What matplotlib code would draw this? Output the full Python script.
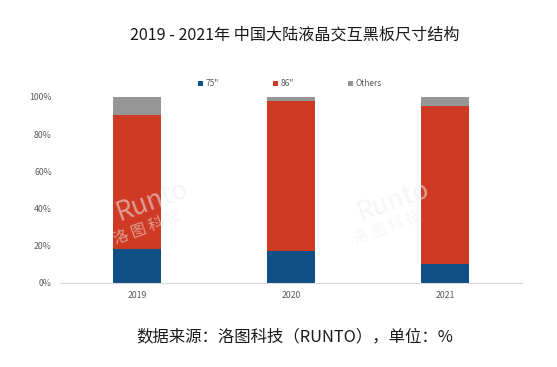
import numpy as np
import matplotlib.pyplot as plt

plt.rcParams['font.family'] = ['Noto Sans CJK SC', 'DejaVu Sans']

years = ['2019', '2020', '2021']
size_75 = [18, 17, 10]
size_86 = [72, 81, 85]
others = [10, 2, 5]
series = [('75"', size_75, '#0F4F85'), ('86"', size_86, '#CF3A25'), ('Others', others, '#969696')]

fig = plt.figure(figsize=(5.57, 3.67), dpi=100)
ax = fig.add_axes([0.108, 0.229, 0.829, 0.507])

x = np.arange(len(years))
bottom = np.zeros(len(years))
for name, vals, col in series:
    v = np.array(vals) / 100.0
    ax.bar(x, v, width=0.31, bottom=bottom, color=col, label=name)
    bottom += v

ax.set_xlim(-0.5, 2.5)
ax.set_ylim(0, 1.0)
ax.set_yticks(np.arange(0, 1.01, 0.2))
ax.set_yticklabels(['%d%%' % (t * 100) for t in np.arange(0, 1.01, 0.2)])
ax.set_xticks(x)
ax.set_xticklabels(years)
ax.tick_params(axis='both', length=0, labelsize=6.3, colors='#595959', pad=6)
for s in ['top', 'right', 'left']:
    ax.spines[s].set_visible(False)
ax.spines['bottom'].set_color('#d9d9d9')
ax.spines['bottom'].set_linewidth(0.8)

# watermark
for wx in [0.2, 0.72]:
    ax.text(wx, 0.44, 'Runto', transform=ax.transAxes, fontsize=19, style='italic',
            color='#eeeeee', alpha=0.55, rotation=20, ha='center', va='center', zorder=5)
    ax.text(wx - 0.01, 0.3, '洛 图 科 技', transform=ax.transAxes, fontsize=11, style='italic',
            color='#eeeeee', alpha=0.55, rotation=20, ha='center', va='center', zorder=5)

fig.legend(loc='center', bbox_to_anchor=(0.52, 0.772), ncol=3, frameon=False,
           fontsize=6, handlelength=0.6, handleheight=0.6, handletextpad=0.3,
           columnspacing=6.5, labelcolor='#595959')

fig.text(0.53, 0.905, '2019 - 2021年 中国大陆液晶交互黑板尺寸结构', ha='center', va='center',
         fontsize=11.6, color='#1a1a1a')
fig.text(0.529, 0.082, '数据来源：洛图科技（RUNTO），单位：%', ha='center', va='center',
         fontsize=11.8, color='#1a1a1a')

fig.savefig('out.png', dpi=100)
